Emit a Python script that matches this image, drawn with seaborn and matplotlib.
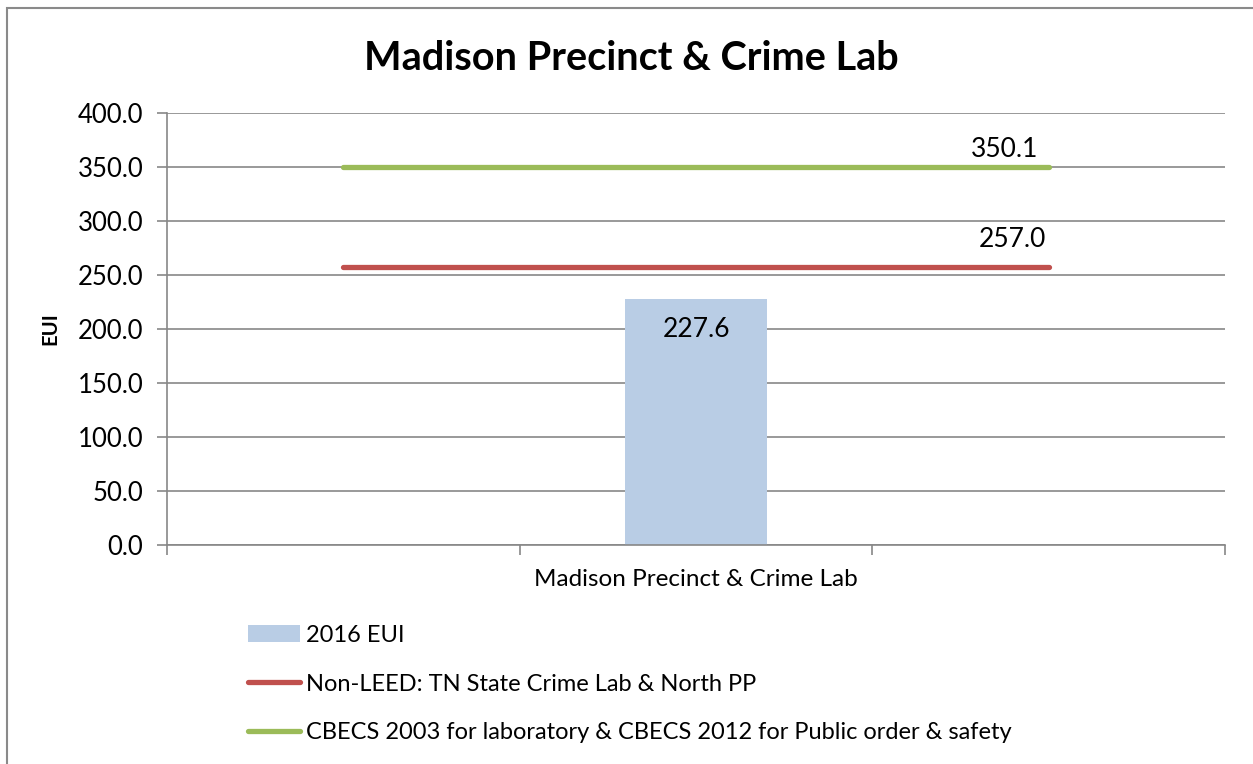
import numpy as np
import pandas as pd
import matplotlib.pyplot as plt
import seaborn as sns
from matplotlib.patches import Rectangle
from matplotlib.ticker import FormatStrFormatter, FixedLocator

# data
categories = ["", "Madison Precinct & Crime Lab", " "]
eui_2016 = [np.nan, 227.6, np.nan]
non_leed = [257.0, 257.0, 257.0]
cbecs = [350.1, 350.1, 350.1]
series_names = ["2016 EUI",
                "Non-LEED: TN State Crime Lab & North PP",
                "CBECS 2003 for laboratory & CBECS 2012 for Public order & safety"]

df = pd.DataFrame({"cat": categories, "eui": eui_2016,
                   "nonleed": non_leed, "cbecs": cbecs})
df["pos"] = range(len(df))

sns.set_theme(style="white")
plt.rcParams['font.family'] = ['Lato', 'DejaVu Sans']
plt.rcParams.update({"text.color": "black", "axes.labelcolor": "black",
                     "xtick.color": "black", "ytick.color": "black"})

W, H = 1253, 764
fig = plt.figure(figsize=(W / 100, H / 100), dpi=100)
ax = fig.add_axes([167 / W, 1 - 545 / H, (1225 - 167) / W, (545 - 113) / H])

grid_c = "#878787"

sns.barplot(data=df, x="cat", y="eui", order=categories, color="#B9CDE5",
            width=0.4, saturation=1, linewidth=0, label=series_names[0],
            ax=ax, zorder=2)
sns.lineplot(data=df, x="pos", y="nonleed", color="#C0504D", linewidth=3.8,
             solid_capstyle="round", label=series_names[1], ax=ax, zorder=3)
sns.lineplot(data=df, x="pos", y="cbecs", color="#9BBB59", linewidth=3.8,
             solid_capstyle="round", label=series_names[2], ax=ax, zorder=3)

# data labels
ax.annotate(f"{eui_2016[1]:.1f}", xy=(1, eui_2016[1]), xytext=(0, -38),
            textcoords="offset pixels", ha="center", va="baseline", fontsize=19)
ax.annotate(f"{non_leed[2]:.1f}", xy=(2, non_leed[2]), xytext=(-3, 20),
            textcoords="offset pixels", ha="right", va="baseline", fontsize=19)
ax.annotate(f"{cbecs[2]:.1f}", xy=(2, cbecs[2]), xytext=(-10, 10),
            textcoords="offset pixels", ha="right", va="baseline", fontsize=19)

# axes
ax.set_ylim(0, 400)
ax.set_yticks(np.arange(0, 401, 50))
ax.yaxis.set_major_formatter(FormatStrFormatter("%.1f"))
ax.set_xlim(-0.5, 2.5)
ax.xaxis.set_major_locator(FixedLocator([-0.5, 0.5, 1.5, 2.5]))
ax.set_xticklabels([])
ax.xaxis.set_minor_locator(FixedLocator([0, 1, 2]))
ax.set_xticklabels(categories, minor=True)
ax.tick_params(axis="x", which="minor", length=0, pad=17, labelsize=17.5,
               labelcolor="black")
ax.tick_params(axis="x", which="major", length=7, width=1.2, color=grid_c,
               direction="out", bottom=True)
ax.tick_params(axis="y", length=7, width=1.2, color=grid_c, direction="out",
               left=True, pad=10, labelsize=18.5, labelcolor="black")
ax.grid(axis="y", color=grid_c, linewidth=1.2, zorder=0)
ax.set_axisbelow(True)
for s in ["top", "right"]:
    ax.spines[s].set_visible(False)
for s in ["left", "bottom"]:
    ax.spines[s].set_color(grid_c)
    ax.spines[s].set_linewidth(1.2)
ax.set_xlabel("")
ax.set_ylabel("EUI", fontsize=14.5, fontweight="bold", color="black")
ax.yaxis.set_label_coords((60 - 167) / (1225 - 167), 0.5)

# title
fig.text(631 / W, 1 - 70 / H, "Madison Precinct & Crime Lab", ha="center",
         va="baseline", fontsize=28.5, fontweight="bold", color="black")

# legend, bar first as in the source
handles, labels = ax.get_legend_handles_labels()
order = [labels.index(n) for n in series_names]
if ax.get_legend():
    ax.get_legend().remove()
fig.legend([handles[i] for i in order], [labels[i] for i in order],
           loc="upper left", bbox_to_anchor=(248 / W, 1 - 625 / H),
           frameon=False, fontsize=17, handlelength=2.2, handletextpad=0.25,
           labelspacing=1.17, borderpad=0, borderaxespad=0, labelcolor="black")

# chart area border
fig.patches.append(Rectangle((7 / W, -0.1), 1.2, 1.1 - 8 / H, transform=fig.transFigure,
                             fill=False, edgecolor="#8A8A8A", linewidth=1.5))

fig.savefig("out.png", dpi=100)
